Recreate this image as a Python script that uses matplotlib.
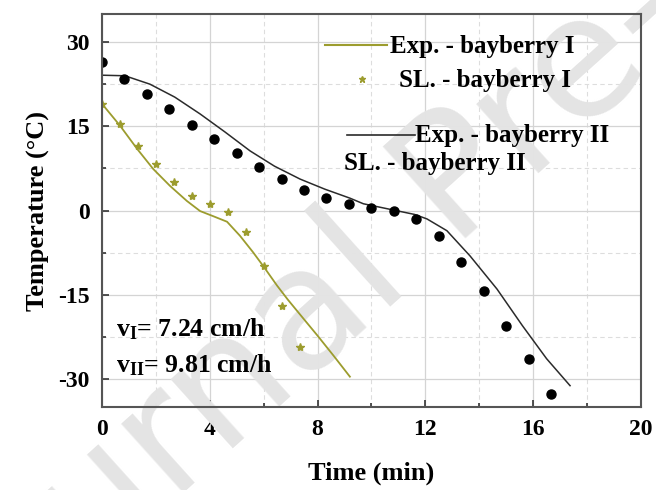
import matplotlib
matplotlib.use('Agg')
import matplotlib.pyplot as plt
from matplotlib.lines import Line2D
from matplotlib.ticker import MultipleLocator

plt.rcParams['font.family'] = ['Liberation Serif', 'DejaVu Serif']
plt.rcParams['font.weight'] = 'bold'
plt.rcParams['axes.unicode_minus'] = False
plt.rcParams['mathtext.fontset'] = 'custom'
plt.rcParams['mathtext.rm'] = 'Liberation Serif:bold'
plt.rcParams['mathtext.it'] = 'Liberation Serif:bold'
plt.rcParams['mathtext.bf'] = 'Liberation Serif:bold'
plt.rcParams['mathtext.default'] = 'rm'

### bayberry I : experiment (line) and simulation (stars)
exp1_t = [0.0, 0.67, 1.3, 1.9, 2.52, 3.15, 3.64, 4.12, 4.64, 5.12, 5.6, 6.0, 6.5, 6.9, 7.5, 8.0, 8.6, 9.2]
exp1_T = [19.0, 15.1, 11.0, 7.4, 4.4, 1.7, -0.1, -1.0, -2.0, -4.5, -7.4, -10.0, -13.4, -15.9, -19.4, -22.3, -25.9, -29.6]
sl1_t = [0.0, 0.67, 1.33, 2.0, 2.67, 3.33, 4.0, 4.67, 5.33, 6.0, 6.67, 7.33]
sl1_T = [19.0, 15.4, 11.5, 8.3, 5.1, 2.6, 1.2, -0.2, -3.8, -9.9, -17.0, -24.4]

### bayberry II
exp2_t = [0.0, 0.85, 1.78, 2.7, 3.64, 4.56, 5.5, 6.4, 7.35, 8.27, 9.2, 9.7, 10.9, 11.6, 12.06, 12.8, 13.66, 14.66, 15.6, 16.5, 17.37]
exp2_T = [24.1, 24.0, 22.5, 20.2, 17.2, 14.0, 10.6, 7.9, 5.6, 3.8, 2.2, 1.2, 0.0, -0.7, -1.5, -3.6, -8.1, -14.0, -20.5, -26.4, -31.2]
sl2_t = [0.0, 0.83, 1.67, 2.5, 3.33, 4.17, 5.0, 5.83, 6.67, 7.5, 8.33, 9.17, 10.0, 10.83, 11.67, 12.5, 13.33, 14.17, 15.0, 15.83, 16.67]
sl2_T = [26.4, 23.4, 20.7, 18.1, 15.2, 12.7, 10.2, 7.7, 5.6, 3.7, 2.3, 1.2, 0.4, 0.0, -1.5, -4.5, -9.1, -14.3, -20.5, -26.4, -32.6]

olive = '#9c9c2e'
dark = '#2b2b2b'

fig = plt.figure(figsize=(6.56, 4.9), dpi=100)
ax = fig.add_axes([0.1555, 0.1694, 0.8215, 0.802])

# watermark (cropped in the original page)
ax.text(0.723, 0.641, 'Journal Pre-proof', transform=fig.transFigure,
        fontsize=122, color='#e4e4e4', family='DejaVu Sans', weight='normal',
        rotation=42, rotation_mode='anchor', ha='center', va='center',
        zorder=1, clip_on=False)

ax.plot(exp1_t, exp1_T, color=olive, lw=1.3, zorder=3)
ax.plot(sl1_t, sl1_T, '*', color=olive, ms=6, zorder=3)
ax.plot(exp2_t, exp2_T, color=dark, lw=1.1, zorder=3)
ax.plot(sl2_t, sl2_T, 'o', color='black', ms=6.5, zorder=3)

ax.set_xlim(0, 20)
ax.set_ylim(-35, 35)
ax.xaxis.set_major_locator(MultipleLocator(4))
ax.xaxis.set_minor_locator(MultipleLocator(2))
ax.yaxis.set_major_locator(MultipleLocator(15))
ax.yaxis.set_minor_locator(MultipleLocator(7.5))
ax.grid(which='major', color='#d4d4d4', lw=0.9, ls='-')
ax.grid(which='minor', color='#dddddd', lw=0.8, ls=(0, (4, 3)))
ax.set_axisbelow(True)
ax.tick_params(which='both', direction='in', top=False, right=False,
               labelsize=17, width=1.2, color='#333333')
ax.tick_params(which='major', length=5, pad=9)
ax.tick_params(which='minor', length=3)
for s in ax.spines.values():
    s.set_color('#555555')
    s.set_linewidth(1.5)
    s.set_zorder(4)

ax.set_xlabel('Time (min)', fontsize=19, fontweight='bold', labelpad=15)
ax.set_ylabel('Temperature (\u00b0C)', fontsize=19, fontweight='bold', labelpad=6)

# legend, drawn by hand to keep its odd layout
tr = ax.transAxes
fs = 18
ax.add_line(Line2D([0.414, 0.529], [0.921, 0.921], transform=tr, color=olive, lw=1.5, zorder=5))
ax.text(0.535, 0.918, 'Exp. - bayberry I', transform=tr, fontsize=fs, va='center', zorder=5)
ax.add_line(Line2D([0.482], [0.835], transform=tr, marker='*', color=olive, ms=5, ls='none', zorder=5))
ax.text(0.551, 0.830, 'SL. - bayberry I', transform=tr, fontsize=fs, va='center', zorder=5)
ax.add_line(Line2D([0.455, 0.581], [0.692, 0.692], transform=tr, color=dark, lw=1.2, zorder=5))
ax.text(0.581, 0.690, 'Exp. - bayberry II', transform=tr, fontsize=fs, va='center', zorder=5)
ax.text(0.449, 0.619, 'SL. - bayberry II', transform=tr, fontsize=fs, va='center', zorder=5)

ax.text(0.026, 0.198, r'v$_{\rm I}$= 7.24 cm/h', transform=tr, fontsize=18.5, va='center', zorder=5)
ax.text(0.026, 0.107, r'v$_{\rm II}$= 9.81 cm/h', transform=tr, fontsize=18.5, va='center', zorder=5)

fig.savefig('out.png', dpi=100)
